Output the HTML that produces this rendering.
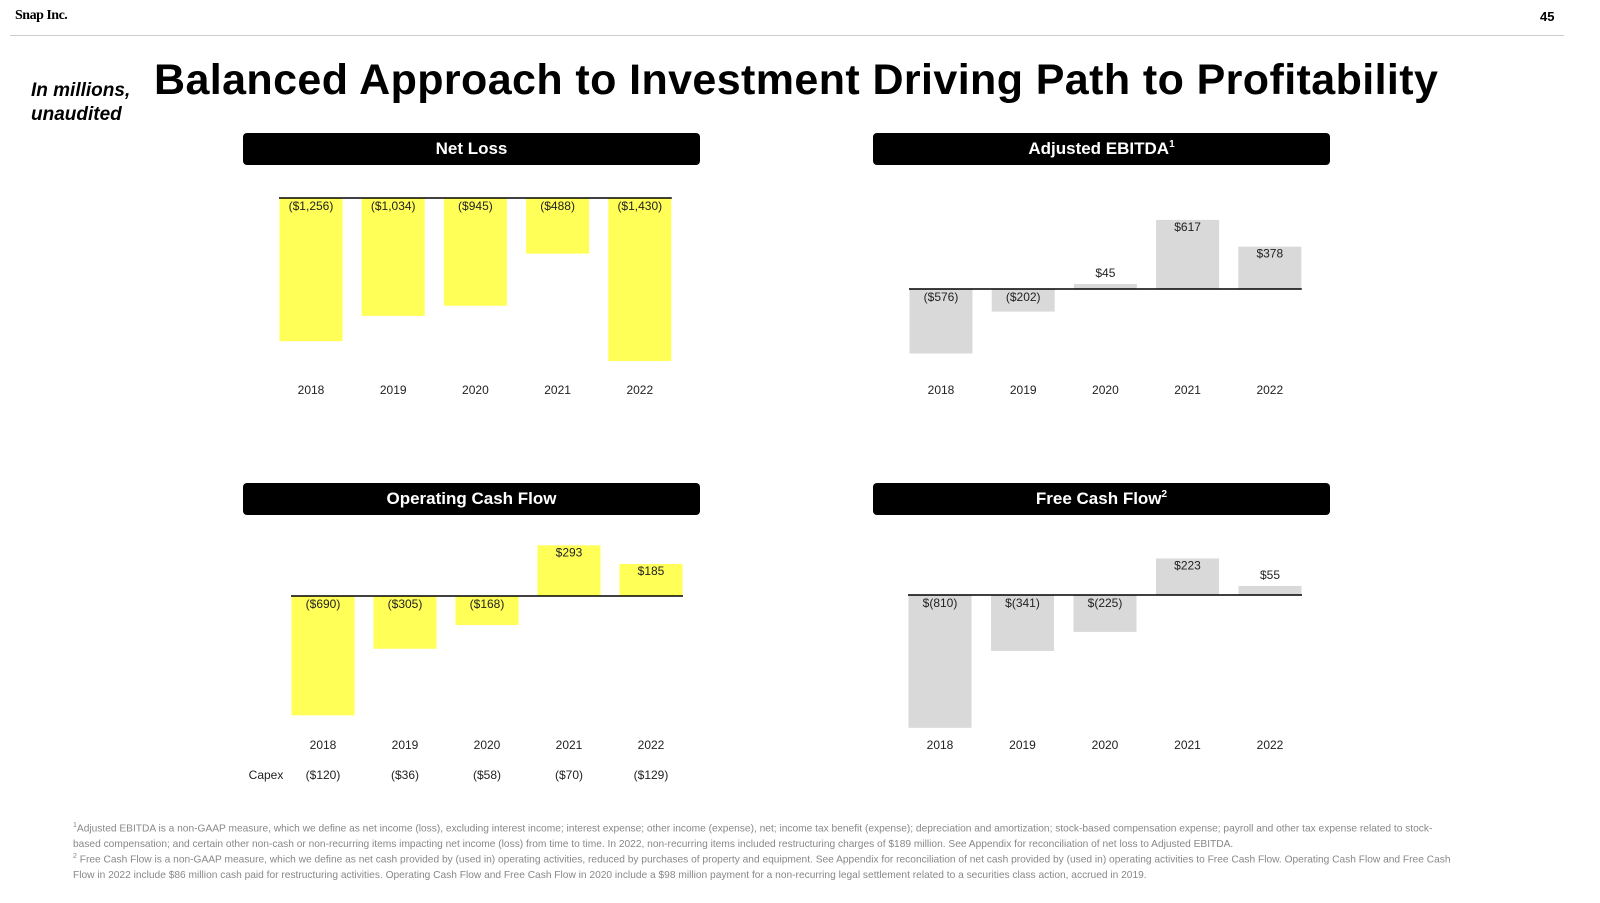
<!DOCTYPE html>
<html><head><meta charset="utf-8"><style>
body{margin:0;background:#fff;font-family:"Liberation Sans",sans-serif;}
#page{position:relative;width:1600px;height:903px;overflow:hidden;background:#fff}
.abs{position:absolute}
.hdr{position:absolute;height:32px;width:457px;background:#000;color:#fff;border-radius:4px;font-weight:bold;font-size:17px;text-align:center;line-height:32px}
.hdr sup{font-size:10px;line-height:0;vertical-align:7px}
.fn{position:absolute;left:73px;font-size:10.2px;color:#888;line-height:15.5px;width:1385px}
</style></head><body><div id="page">
<div class="abs" style="left:15px;top:8px;font-family:'Liberation Serif',serif;font-weight:bold;font-size:14px;letter-spacing:-0.5px">Snap Inc.</div>
<div class="abs" style="left:1540px;top:9px;font-weight:bold;font-size:13px">45</div>
<div class="abs" style="left:10px;top:35px;width:1554px;height:1px;background:#ccc"></div>
<div class="abs" style="left:31px;top:79px;font-style:italic;font-weight:bold;font-size:19px;line-height:24px">In millions,<br>unaudited</div>
<div class="abs" style="left:154px;top:56px;font-weight:bold;font-size:43px;letter-spacing:0.4px">Balanced Approach to Investment Driving Path to Profitability</div>
<div class="hdr" style="left:243px;top:133px">Net Loss</div>
<div class="hdr" style="left:873px;top:133px">Adjusted EBITDA<sup>1</sup></div>
<div class="hdr" style="left:243px;top:483px">Operating Cash Flow</div>
<div class="hdr" style="left:873px;top:483px">Free Cash Flow<sup>2</sup></div>
<svg class="abs" style="left:0;top:0" width="1600" height="903" id="charts"></svg>
<div class="fn" style="top:818px"><sup style="font-size:7px">1</sup>Adjusted EBITDA is a non-GAAP measure, which we define as net income (loss), excluding interest income; interest expense; other income (expense), net; income tax benefit (expense); depreciation and amortization; stock-based compensation expense; payroll and other tax expense related to stock-based compensation; and certain other non-cash or non-recurring items impacting net income (loss) from time to time. In 2022, non-recurring items included restructuring charges of $189 million. See Appendix for reconciliation of net loss to Adjusted EBITDA.</div>
<div class="fn" style="top:849px"><sup style="font-size:7px">2</sup> Free Cash Flow is a non-GAAP measure, which we define as net cash provided by (used in) operating activities, reduced by purchases of property and equipment. See Appendix for reconciliation of net cash provided by (used in) operating activities to Free Cash Flow. Operating Cash Flow and Free Cash Flow in 2022 include $86 million cash paid for restructuring activities. Operating Cash Flow and Free Cash Flow in 2020 include a $98 million payment for a non-recurring legal settlement related to a securities class action, accrued in 2019.</div>
</div>
<script>
const years=["2018","2019","2020","2021","2022"];
const netLoss=[-1256,-1034,-945,-488,-1430];
const ebitda=[-576,-202,45,617,378];
const ocf=[-690,-305,-168,293,185];
const fcf=[-810,-341,-225,223,55];
const capex=[-120,-36,-58,-70,-129];
const svg=document.getElementById('charts');
const NS='http://www.w3.org/2000/svg';
function mk(t,a){const e=document.createElementNS(NS,t);for(const k in a)e.setAttribute(k,a[k]);svg.appendChild(e);return e;}
function fmt(v,style){const a=Math.abs(v).toLocaleString('en-US');if(v>=0)return '$'+a;return style==='fcf'?'$('+a+')':'($'+a+')';}
function chart(name,vals,x0,step,base,scale,color,yearY,style){
  const w=63;
  vals.forEach((v,i)=>{
    const cx=x0+i*step,h=Math.abs(v)*scale,y=v<0?base:base-h;
    const r=mk('rect',{x:cx-w/2,y:y,width:w,height:h,fill:color});
    
    
    let ty;
    if(v<0)ty=base+12;else if(h<18)ty=base-h-7;else ty=base-h+11;
    const t=mk('text',{x:cx,y:ty,'text-anchor':'middle','font-size':12,fill:'#222'});t.textContent=fmt(v,style);
    
    
    const yl=mk('text',{x:cx,y:yearY,'text-anchor':'middle','font-size':12,fill:'#222'});yl.textContent=years[i];
    
    
  });
  const l=mk('line',{x1:x0-32,x2:x0+4*step+32,y1:base,y2:base,stroke:'#000','stroke-width':1.5});
  
  
}
chart('net-loss',netLoss,311,82.2,198,0.114,'#ffff57',394,'');
chart('ebitda',ebitda,941,82.2,289,0.112,'#d9d9d9',394,'');
chart('ocf',ocf,323,82,596,0.173,'#ffff57',749,'');
chart('fcf',fcf,940,82.5,595,0.164,'#d9d9d9',749,'fcf');
const cl=mk('text',{x:266,y:779,'text-anchor':'middle','font-size':12,fill:'#222'});cl.textContent='Capex';


capex.forEach((v,i)=>{const t=mk('text',{x:323+i*82,y:779,'text-anchor':'middle','font-size':12,fill:'#222'});t.textContent=fmt(v,'');

});
</script></body></html>
